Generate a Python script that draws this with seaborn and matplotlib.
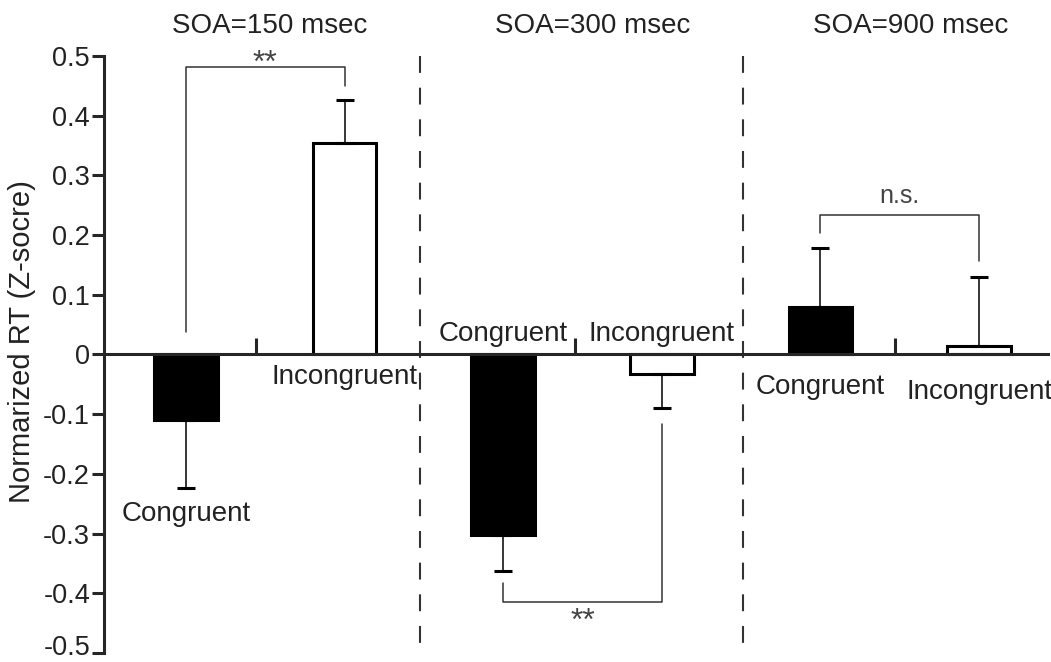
import matplotlib
matplotlib.use("Agg")
import matplotlib.pyplot as plt
import matplotlib.transforms as mtransforms
import seaborn as sns
import numpy as np
import pandas as pd

# ---- data ----
soa_labels = ["SOA=150 msec", "SOA=300 msec", "SOA=900 msec"]
congruence = ["Congruent", "Incongruent"]
means_150 = [-0.11, 0.355]
means_300 = [-0.303, -0.032]
means_900 = [0.079, 0.015]
sem_150 = [0.113, 0.072]
sem_300 = [0.059, 0.057]
sem_900 = [0.099, 0.114]
significance = ["**", "**", "n.s."]
y_ticks = [-0.5, -0.4, -0.3, -0.2, -0.1, 0, 0.1, 0.2, 0.3, 0.4, 0.5]
y_tick_labels = ["-0.5", "-0.4", "-0.3", "-0.2", "-0.1", "0", "0.1", "0.2", "0.3", "0.4", "0.5"]
y_label = "Normarized RT (Z-socre)"

rows = []
for soa, m, s in zip(soa_labels, [means_150, means_300, means_900], [sem_150, sem_300, sem_900]):
    for c, mv, sv in zip(congruence, m, s):
        rows.append({"soa": soa, "cong": c, "bar": soa + "|" + c, "mean": mv, "sem": sv})
df = pd.DataFrame(rows)

sns.set_style("ticks")
plt.rcParams["font.family"] = ["Liberation Sans", "DejaVu Sans"]
plt.rcParams["axes.unicode_minus"] = False
TXT = "#222222"

fig = plt.figure(figsize=(10.51, 6.62), dpi=100)
ax = fig.add_axes([104 / 1051, 1 - 653 / 662, 944 / 1051, 597 / 662])

sns.barplot(data=df, x="bar", y="mean", hue="cong", order=list(df["bar"]),
            palette={"Congruent": "black", "Incongruent": "white"},
            edgecolor="black", linewidth=2.2, width=0.4, errorbar=None,
            legend=False, ax=ax, saturation=1)

xpos = np.arange(len(df))
means = df["mean"].to_numpy()
sems = df["sem"].to_numpy()
lower = np.where(means < 0, sems, 0)
upper = np.where(means >= 0, sems, 0)
ax.errorbar(xpos, means, yerr=[lower, upper], fmt="none", ecolor="black",
            elinewidth=1.1, capsize=6.5, capthick=2.2, zorder=1)

ax.set_ylim(-0.5, 0.5)
ax.set_xlim(-0.517, 5.435)
ax.set_yticks(y_ticks)
ax.set_yticklabels(y_tick_labels)
ax.set_xticks([0.44, 2.45, 4.47])
ax.set_xticklabels([])
ax.set_xlabel("")
ax.set_ylabel(y_label, fontsize=21, color=TXT)
ax.yaxis.set_label_coords(-0.072, 0.521)

for side in ["top", "right"]:
    ax.spines[side].set_visible(False)
ax.spines["bottom"].set_position(("data", 0))
ax.spines["bottom"].set_linewidth(2.2)
ax.spines["left"].set_linewidth(2.2)
ax.spines["bottom"].set_zorder(5)
ax.tick_params(axis="y", direction="out", length=8.5, width=2.2, labelsize=19.5,
               labelcolor=TXT, pad=1.5)
ax.tick_params(axis="x", direction="in", length=11.5, width=2.2)

# nudge the lowest tick label up so it stays inside the canvas
lowest = ax.get_yticklabels()[0]
lowest.set_transform(lowest.get_transform() +
                     mtransforms.ScaledTranslation(0, 8 / 100, fig.dpi_scale_trans))

# dashed separators
for xd in [1.475, 3.512]:
    ax.plot([xd, xd], [0.5, -0.488], color="#333333", lw=1.5,
            linestyle=(0, (8.1, 7.1)), clip_on=False)

# titles
for xt, t in zip([0.53, 2.566, 4.571], soa_labels):
    ax.text(xt, 0.5385, t, fontsize=20, color=TXT, ha="center", va="baseline")

# bar labels
label_y = [-0.279, -0.05, 0.022, 0.022, -0.067, -0.075]
for i, (c, ly) in enumerate(zip(df["cong"], label_y)):
    ax.text(i, ly, c, fontsize=20, color=TXT, ha="center", va="baseline")

# significance brackets
br = "#333333"
ax.plot([0, 0, 1, 1], [0.037, 0.481, 0.481, 0.45], color=br, lw=1.1)
ax.text(0.5, 0.474, significance[0], fontsize=23, color="#444444", ha="center", va="baseline")
ax.plot([2, 2, 3, 3], [-0.382, -0.414, -0.414, -0.116], color=br, lw=1.1)
ax.text(2.5, -0.462, significance[1], fontsize=23, color="#444444", ha="center", va="baseline")
ax.plot([4, 4, 5, 5], [0.204, 0.233, 0.233, 0.157], color=br, lw=1.1)
ax.text(4.5, 0.254, significance[2], fontsize=18, color="#444444", ha="center", va="baseline")

fig.savefig("out.png", dpi=100)
